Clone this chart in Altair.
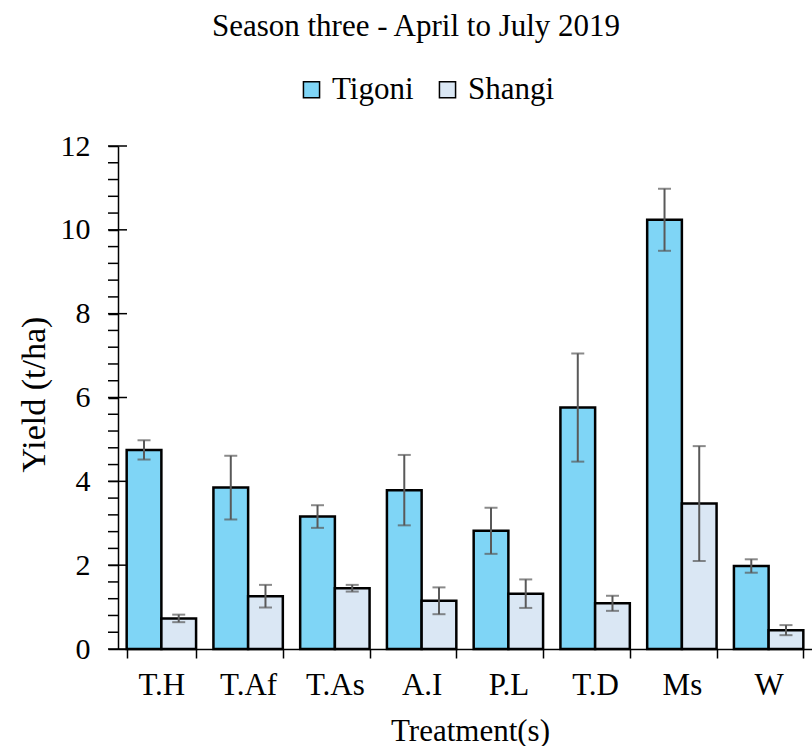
import altair as alt
import pandas as pd

treatments = ["T.H", "T.Af", "T.As", "A.I", "P.L", "T.D", "Ms", "W"]
varieties = ["Tigoni", "Shangi"]
tigoni_yield = [4.75, 3.85, 3.16, 3.79, 2.82, 5.76, 10.24, 1.98]
tigoni_err = [0.23, 0.76, 0.27, 0.84, 0.55, 1.29, 0.74, 0.16]
shangi_yield = [0.73, 1.26, 1.45, 1.15, 1.32, 1.09, 3.47, 0.45]
shangi_err = [0.09, 0.27, 0.08, 0.32, 0.34, 0.18, 1.37, 0.12]
y_major = [0, 2, 4, 6, 8, 10, 12]
y_minor = [round(i * 0.4, 1) for i in range(31)]

rows = []
for i, t in enumerate(treatments):
    rows.append({"Treatment": t, "Variety": "Tigoni", "Yield": tigoni_yield[i],
                 "lo": tigoni_yield[i] - tigoni_err[i], "hi": tigoni_yield[i] + tigoni_err[i]})
    rows.append({"Treatment": t, "Variety": "Shangi", "Yield": shangi_yield[i],
                 "lo": shangi_yield[i] - shangi_err[i], "hi": shangi_yield[i] + shangi_err[i]})
df = pd.DataFrame(rows)
major_df = pd.DataFrame({"v": y_major})
minor_df = pd.DataFrame({"v": y_minor})

FONT = "Liberation Serif"
TIGONI_FILL = "#7FD5F6"
SHANGI_FILL = "#DAE7F4"

x_enc = alt.X("Treatment:N", sort=treatments,
              scale=alt.Scale(paddingInner=0.2, paddingOuter=0.1),
              axis=alt.Axis(title="Treatment(s)", labelAngle=0, tickBand="extent",
                            tickSize=9, tickColor="black", tickWidth=1.5,
                            domainColor="black", domainWidth=1.5,
                            labelFontSize=31, labelFont=FONT, labelColor="black",
                            labelPadding=12, titleFontSize=31, titleFont=FONT,
                            titleFontWeight="normal", titleColor="black",
                            titleY=91, titleBaseline="alphabetic", titleX=352))
xoff = alt.XOffset("Variety:N", sort=varieties, scale=alt.Scale(paddingInner=0, paddingOuter=0))
y_scale = alt.Scale(domain=[0, 12], nice=False)

bars = alt.Chart(df).mark_bar(stroke="black", strokeWidth=2.5).encode(
    x=x_enc,
    xOffset=xoff,
    y=alt.Y("Yield:Q", scale=y_scale,
            axis=alt.Axis(title="Yield (t/ha)", values=y_major,
                          grid=False, tickSize=10, tickColor="black", tickWidth=1.5,
                          domainColor="black", domainWidth=1.5,
                          labelFontSize=30, labelFont=FONT, labelColor="black",
                          labelPadding=18, labelFlush=False, labelOverlap=False,
                          titleFontSize=34, titleFont=FONT, titleFontWeight="normal",
                          titleColor="black", titleX=-84, titleY=248,
                          titleAlign="center", titleBaseline="middle")),
    fill=alt.Fill("Variety:N", sort=varieties,
                  scale=alt.Scale(domain=varieties, range=[TIGONI_FILL, SHANGI_FILL]),
                  legend=alt.Legend(title=None, orient="none", direction="horizontal",
                                    legendX=178, legendY=-72,
                                    symbolType="square", symbolSize=260,
                                    symbolStrokeColor="black", symbolStrokeWidth=1.5,
                                    labelFontSize=31, labelFont=FONT, labelColor="black",
                                    labelOffset=5, columnPadding=18)),
)

err_rule = alt.Chart(df).mark_rule(color="#595959", strokeWidth=2).encode(
    x=alt.X("Treatment:N", sort=treatments),
    xOffset=xoff,
    y=alt.Y("lo:Q", scale=y_scale),
    y2="hi:Q",
)
cap_hi = alt.Chart(df).mark_tick(color="#595959", thickness=2, size=13, orient="horizontal").encode(
    x=alt.X("Treatment:N", sort=treatments),
    xOffset=xoff,
    y=alt.Y("hi:Q", scale=y_scale),
)
cap_lo = alt.Chart(df).mark_tick(color="#595959", thickness=2, size=13, orient="horizontal").encode(
    x=alt.X("Treatment:N", sort=treatments),
    xOffset=xoff,
    y=alt.Y("lo:Q", scale=y_scale),
)
minor_ticks = alt.Chart(minor_df).mark_rule(color="black", strokeWidth=1.5).encode(
    y=alt.Y("v:Q", scale=y_scale),
    x=alt.value(-10),
    x2=alt.value(0),
)
inner_ticks = alt.Chart(major_df).mark_rule(color="black", strokeWidth=1.5).encode(
    y=alt.Y("v:Q", scale=y_scale),
    x=alt.value(0),
    x2=alt.value(9),
)

chart = alt.layer(bars, err_rule, cap_hi, cap_lo, minor_ticks, inner_ticks).properties(
    width=694, height=503,
    title=alt.TitleParams("Season three - April to July 2019", fontSize=31, font=FONT,
                          fontWeight="normal", color="black", anchor="middle",
                          baseline="alphabetic", dx=-49, offset=7),
    autosize=alt.AutoSizeParams(type="none"),
    padding={"left": 118, "top": 146, "right": 0, "bottom": 97},
    background="white",
).configure_view(strokeWidth=0, stroke="transparent")

chart.save("out.html", embed_options={"renderer": "svg", "actions": False})
